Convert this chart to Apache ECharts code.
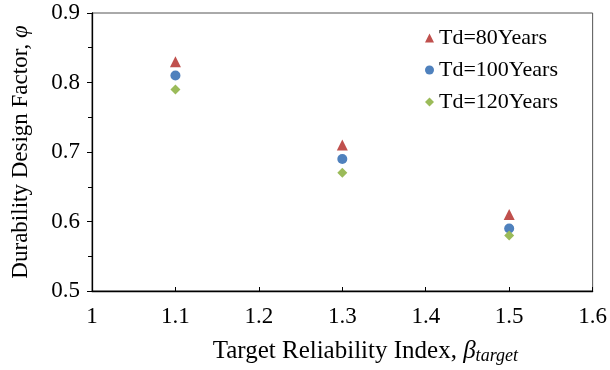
<!DOCTYPE html>
<html><head><meta charset="utf-8">
<script src="https://cdn.jsdelivr.net/npm/echarts@6/dist/echarts.min.js"></script>
<style>html,body{margin:0;padding:0;background:#fff}#c{width:610px;height:370px}</style>
</head><body><div id="c"></div>
<script>
const betaValues = [1.1, 1.3, 1.5];
const seriesNames = ['Td=80Years', 'Td=100Years', 'Td=120Years'];
const td80 = [0.83, 0.71, 0.61];
const td100 = [0.81, 0.69, 0.59];
const td120 = [0.79, 0.67, 0.58];
const xTicks = [1, 1.1, 1.2, 1.3, 1.4, 1.5, 1.6];
const yTicks = [0.5, 0.6, 0.7, 0.8, 0.9];

const font = '"Liberation Serif", "Times New Roman", serif';
const pairs = (ys) => betaValues.map((x, i) => [x, ys[i]]);

const chart = echarts.init(document.getElementById('c'));
chart.setOption({
  animation: false,
  grid: {left: 92, right: 17, top: 13, bottom: 76, show: true, borderColor: '#555', borderWidth: 1},
  legend: {
    orient: 'vertical', left: 420, top: 22, itemGap: 10, itemWidth: 9, itemHeight: 9,
    textStyle: {fontFamily: font, fontSize: 22, color: '#000'},
    data: seriesNames
  },
  xAxis: {
    type: 'value', min: 1, max: 1.6, interval: 0.1,
    axisLine: {lineStyle: {color: '#000', width: 1.3}},
    axisTick: {inside: true, length: 4, lineStyle: {color: '#000'}},
    splitLine: {show: false},
    axisLabel: {fontFamily: font, fontSize: 23, color: '#000', margin: 14,
      formatter: v => xTicks.find(t => Math.abs(t - v) < 1e-6)?.toString() ?? ''},
    name: 'Target Reliability Index, {b|β}{s|target}',
    nameLocation: 'middle', nameGap: 46,
    nameTextStyle: {fontFamily: font, fontSize: 25, color: '#000', padding: [0, 0, 0, 46],
      rich: {
        b: {fontFamily: font, fontSize: 25, fontStyle: 'italic', color: '#000'},
        s: {fontFamily: font, fontSize: 18, fontStyle: 'italic', color: '#000', verticalAlign: 'bottom', padding: [10, 0, 0, 0]}
      }}
  },
  yAxis: {
    type: 'value', min: 0.5, max: 0.9, interval: 0.1,
    axisLine: {show: true, lineStyle: {color: '#000', width: 1.3}},
    axisTick: {show: true, length: 5, lineStyle: {color: '#000'}},
    minorTick: {show: true, splitNumber: 2, length: 4, lineStyle: {color: '#000'}},
    splitLine: {show: false},
    axisLabel: {fontFamily: font, fontSize: 23, color: '#000', margin: 12,
      formatter: v => yTicks.find(t => Math.abs(t - v) < 1e-6)?.toFixed(1) ?? ''},
    name: 'Durability Design Factor, {i|φ}',
    nameLocation: 'middle', nameGap: 60,
    nameTextStyle: {fontFamily: font, fontSize: 23, color: '#000',
      rich: {i: {fontFamily: font, fontSize: 23, fontStyle: 'italic', color: '#000'}}}
  },
  series: [
    {name: seriesNames[0], type: 'scatter', data: pairs(td80), symbol: 'triangle', symbolSize: 11, itemStyle: {color: '#C0504D', opacity: 1}, z: 3},
    {name: seriesNames[1], type: 'scatter', data: pairs(td100), symbol: 'circle', symbolSize: 10, itemStyle: {color: '#4F81BD', opacity: 1}, z: 2},
    {name: seriesNames[2], type: 'scatter', data: pairs(td120), symbol: 'diamond', symbolSize: 10, itemStyle: {color: '#9BBB59', opacity: 1}, z: 4}
  ]
});
</script></body></html>
